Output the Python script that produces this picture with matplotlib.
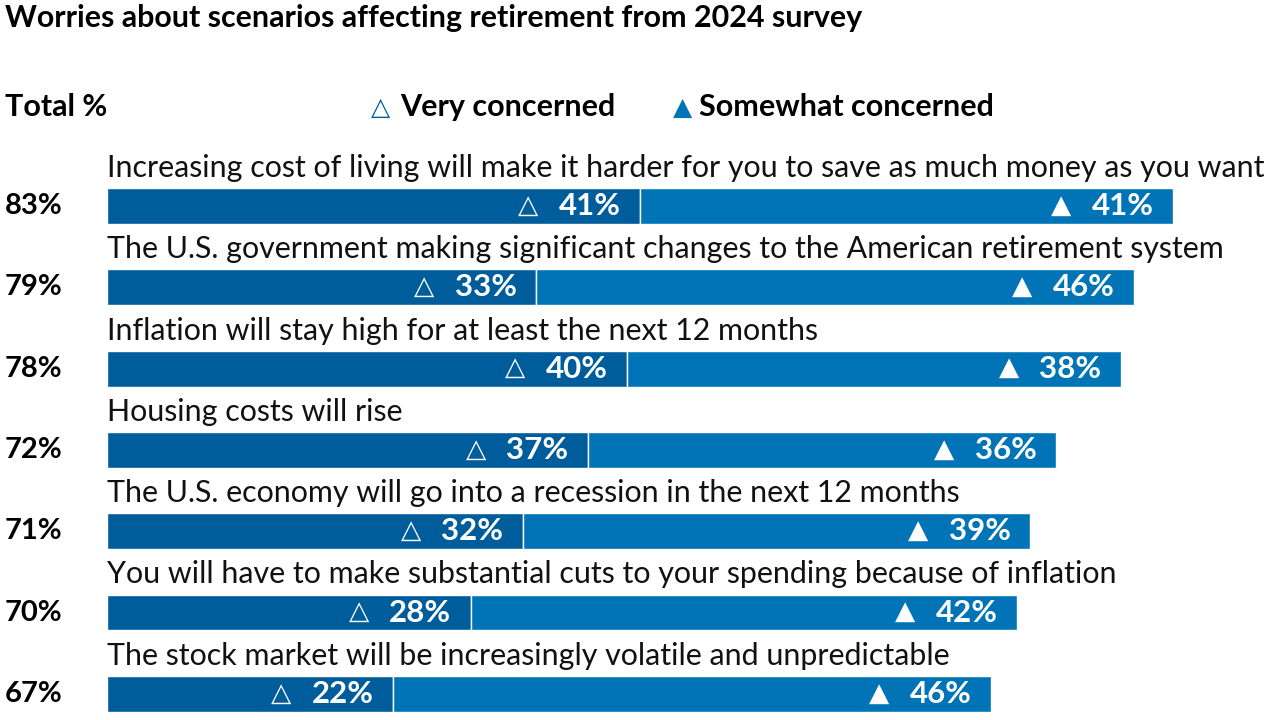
import matplotlib.pyplot as plt

categories = [
    "Increasing cost of living will make it harder for you to save as much money as you want",
    "The U.S. government making significant changes to the American retirement system",
    "Inflation will stay high for at least the next 12 months",
    "Housing costs will rise",
    "The U.S. economy will go into a recession in the next 12 months",
    "You will have to make substantial cuts to your spending because of inflation",
    "The stock market will be increasingly volatile and unpredictable",
]
very = [41, 33, 40, 37, 32, 28, 22]
somewhat = [41, 46, 38, 36, 39, 42, 46]
totals = [83, 79, 78, 72, 71, 70, 67]

dark = "#005d9c"
light = "#0074b7"
fam = ["Lato", "DejaVu Sans"]

fig = plt.figure(figsize=(12.8, 7.2), dpi=100)
ax = fig.add_axes([0, 0, 1, 1])
# 13 px per percent, bars start at x=107px
ax.set_xlim(-107 / 13, 1173 / 13)
ax.set_ylim(6.322, -2.534)
ax.axis("off")

rows = range(len(categories))
ax.barh(rows, very, height=0.44, color=dark, edgecolor="white", linewidth=1)
ax.barh(rows, somewhat, left=very, height=0.44, color=light, edgecolor="white", linewidth=1)


def value_label(x, y, val, mark):
    t = ax.text(x, y, f"{val}%", fontsize=22.5, family=fam, fontweight="bold",
                color="white", va="center", ha="right")
    ax.annotate(mark, xy=(0, 0.5), xycoords=t, xytext=(-20, 1), textcoords="offset pixels",
                fontsize=19, family=fam, color="white", va="center", ha="right")


ytr = ax.get_yaxis_transform()
for i in rows:
    ax.text(0, i - 0.357, categories[i], fontsize=21.9, family=fam,
            va="baseline", ha="left", color="#111111")
    ax.text(5 / 1280, i, f"{totals[i]}%", transform=ytr, fontsize=21,
            family=fam, fontweight="bold", va="center", ha="left")
    value_label(very[i] - 1.5, i, very[i], "\u25b3")
    value_label(very[i] + somewhat[i] - 1.5, i, somewhat[i], "\u25b2")

ly = (107 - 206) / 81.3
ax.text(5 / 1280, ly, "Total %", transform=ytr, fontsize=22, family=fam,
        fontweight="bold", va="center", ha="left")
ax.text(371 / 1280, ly, "\u25b3", transform=ytr, fontsize=18, family=fam,
        color=dark, va="center", ha="left")
ax.text(400 / 1280, ly, "Very concerned", transform=ytr, fontsize=22, family=fam,
        fontweight="bold", va="center", ha="left")
ax.text(673 / 1280, ly, "\u25b2", transform=ytr, fontsize=18, family=fam,
        color=light, va="center", ha="left")
ax.text(699 / 1280, ly, "Somewhat concerned", transform=ytr, fontsize=22, family=fam,
        fontweight="bold", va="center", ha="left")

fig.text(5 / 1280, 1 - 18 / 720, "Worries about scenarios affecting retirement from 2024 survey",
         fontsize=21.9, family=fam, fontweight="bold", va="center", ha="left")

fig.savefig("out.png", dpi=100)
